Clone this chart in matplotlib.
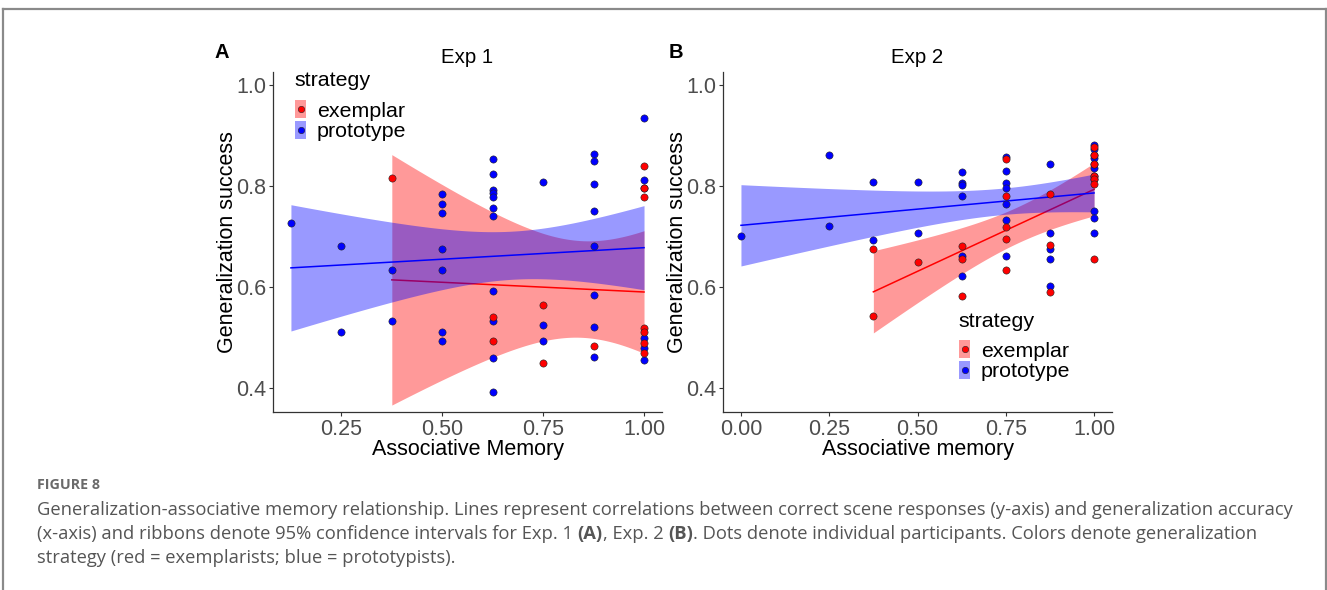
import math
import numpy as np
import matplotlib
matplotlib.use("Agg")
import matplotlib.pyplot as plt
from matplotlib.patches import Rectangle
from matplotlib.lines import Line2D
from matplotlib.legend_handler import HandlerBase

# ---------------- data ----------------
exp1_ex_x = [0.375, 0.625, 0.625, 0.75, 0.75, 0.875, 1.0, 1.0, 1.0, 1.0, 1.0, 1.0, 1.0]
exp1_ex_y = [0.816, 0.541, 0.493, 0.565, 0.450, 0.483, 0.840, 0.796, 0.778, 0.520, 0.511, 0.489, 0.469]

# prototype participants in Exp 1 (the last one sits underneath a red dot at x = 1)
exp1_pr_x = [0.125,
             0.25, 0.25,
             0.375, 0.375,
             0.5, 0.5, 0.5, 0.5, 0.5, 0.5, 0.5,
             0.625, 0.625, 0.625, 0.625, 0.625, 0.625, 0.625, 0.625, 0.625, 0.625, 0.625,
             0.75, 0.75, 0.75,
             0.875, 0.875, 0.875, 0.875, 0.875, 0.875, 0.875, 0.875,
             1.0, 1.0, 1.0, 1.0, 1.0,
             1.0]
exp1_pr_y = [0.727,
             0.682, 0.512,
             0.634, 0.532,
             0.785, 0.765, 0.746, 0.676, 0.634, 0.512, 0.493,
             0.854, 0.823, 0.792, 0.786, 0.779, 0.756, 0.740, 0.593, 0.532, 0.460, 0.392,
             0.808, 0.525, 0.493,
             0.863, 0.850, 0.804, 0.750, 0.682, 0.585, 0.522, 0.461,
             0.935, 0.812, 0.500, 0.479, 0.456,
             0.796]

exp2_ex_x = [0.375, 0.375, 0.5, 0.625, 0.625, 0.625,
             0.75, 0.75, 0.75, 0.75, 0.75,
             0.875, 0.875, 0.875,
             1.0, 1.0, 1.0, 1.0, 1.0, 1.0, 1.0]
exp2_ex_y = [0.675, 0.542, 0.649, 0.682, 0.655, 0.582,
             0.854, 0.780, 0.718, 0.695, 0.634,
             0.784, 0.683, 0.590,
             0.878, 0.862, 0.844, 0.820, 0.813, 0.804, 0.656]

# prototype participants in Exp 2 (the last four sit underneath red dots in the crowded x = 1 column)
exp2_pr_x = [0.0, 0.25, 0.25, 0.375, 0.375, 0.5, 0.5,
             0.625, 0.625, 0.625, 0.625, 0.625, 0.625,
             0.75, 0.75, 0.75, 0.75, 0.75, 0.75, 0.75,
             0.875, 0.875, 0.875, 0.875, 0.875,
             1.0, 1.0, 1.0, 1.0, 1.0, 1.0, 1.0,
             1.0, 1.0, 1.0, 1.0]
exp2_pr_y = [0.701, 0.862, 0.720, 0.807, 0.693, 0.808, 0.707,
             0.827, 0.805, 0.801, 0.780, 0.662, 0.621,
             0.857, 0.829, 0.805, 0.796, 0.765, 0.732, 0.662,
             0.843, 0.707, 0.676, 0.656, 0.602,
             0.882, 0.873, 0.855, 0.836, 0.751, 0.736, 0.707,
             0.862, 0.844, 0.820, 0.813]

x_ticks_1 = [0.25, 0.50, 0.75, 1.00]
x_ticks_2 = [0.00, 0.25, 0.50, 0.75, 1.00]
y_ticks = [0.4, 0.6, 0.8, 1.0]
strategies = ["exemplar", "prototype"]

caption_head = "FIGURE 8"
caption_line1 = ("Generalization-associative memory relationship. Lines represent correlations "
                 "between correct scene responses (y-axis) and generalization accuracy")
caption_line2 = [("(x-axis) and ribbons denote 95% confidence intervals for Exp. 1 ", "normal"),
                 ("(A)", "bold"), (", Exp. 2 ", "normal"), ("(B)", "bold"),
                 (". Dots denote individual participants. Colors denote generalization", "normal")]
caption_line3 = "strategy (red = exemplarists; blue = prototypists)."

RED = "#FF0000"
BLUE = "#0000FF"
W, H = 1327, 590

plt.rcParams["font.family"] = ["Liberation Sans", "DejaVu Sans"]


# ---------------- helpers ----------------
def t_quantile(p, df):
    """Quantile of Student's t via numeric integration of its density."""
    c = math.exp(math.lgamma((df + 1) / 2) - math.lgamma(df / 2)) / math.sqrt(df * math.pi)
    grid = np.linspace(0, 10, 200001)
    pdf = c * (1 + grid ** 2 / df) ** (-(df + 1) / 2)
    cdf = 0.5 + np.concatenate([[0], np.cumsum((pdf[1:] + pdf[:-1]) / 2 * np.diff(grid))])
    return float(np.interp(p, cdf, grid))


def lm_band(x, y, n_grid=80):
    x = np.asarray(x, float)
    y = np.asarray(y, float)
    n = len(x)
    xm = x.mean()
    sxx = ((x - xm) ** 2).sum()
    b1 = ((x - xm) * (y - y.mean())).sum() / sxx
    b0 = y.mean() - b1 * xm
    res = y - (b0 + b1 * x)
    s = math.sqrt((res ** 2).sum() / (n - 2))
    xs = np.linspace(x.min(), x.max(), n_grid)
    fit = b0 + b1 * xs
    se = s * np.sqrt(1 / n + (xs - xm) ** 2 / sxx)
    t = t_quantile(0.975, n - 2)
    return xs, fit, fit - t * se, fit + t * se


class KeyHandler(HandlerBase):
    """ggplot-like legend key: full ribbon-coloured box with a point in the middle."""
    def create_artists(self, legend, orig_handle, xdescent, ydescent, width, height,
                       fontsize, trans):
        col = orig_handle.get_color()
        rect = Rectangle((-xdescent, -ydescent), width, height, facecolor=col,
                         alpha=0.4, lw=0, transform=trans)
        pt = Line2D([-xdescent + width / 2], [-ydescent + height / 2], marker="o", ls="none",
                    ms=4.6, mfc=col, mec="#222222", mew=0.4, transform=trans)
        return [rect, pt]


def fig_rect(l, t, r, b):
    return [l / W, 1 - b / H, (r - l) / W, (b - t) / H]


fig = plt.figure(figsize=(W / 100, H / 100), dpi=100)

# outer frame
frame_kw = dict(transform=fig.transFigure, color="#8a8a8a", lw=1.6)
fig.add_artist(Line2D([3.5 / W, 3.5 / W], [0, 1 - 8.5 / H], **frame_kw))
fig.add_artist(Line2D([3.5 / W, 1325.5 / W], [1 - 8.5 / H, 1 - 8.5 / H], **frame_kw))
fig.add_artist(Line2D([1325.5 / W, 1325.5 / W], [0, 1 - 8.5 / H], **frame_kw))


def panel(rect, ex_x, ex_y, pr_x, pr_y, xlim, xticks, xlabel, title, letter,
          letter_px, title_px, rows_px):
    ax = fig.add_axes(rect)
    z = 1.0
    for gx, gy, col in ((ex_x, ex_y, RED), (pr_x, pr_y, BLUE)):
        xs, fit, lo, hi = lm_band(gx, gy)
        ax.fill_between(xs, lo, hi, color=col, alpha=0.4, lw=0, zorder=z)
        ax.plot(xs, fit, color=col, lw=1.1, zorder=z + 0.1)
        z += 0.2
    ax.scatter(pr_x, pr_y, s=27, c=BLUE, edgecolors="#222222", linewidths=0.4, zorder=3.1)
    ax.scatter(ex_x, ex_y, s=27, c=RED, edgecolors="#222222", linewidths=0.4, zorder=3.2)
    ax.set_xlim(*xlim)
    ax.set_ylim(0.353, 1.026)
    ax.set_xticks(xticks)
    ax.set_xticklabels([f"{v:.2f}" for v in xticks])
    ax.set_yticks(y_ticks)
    ax.set_yticklabels([f"{v:.1f}" for v in y_ticks])
    for sp in ("top", "right"):
        ax.spines[sp].set_visible(False)
    for sp in ("left", "bottom"):
        ax.spines[sp].set_color("#333333")
        ax.spines[sp].set_linewidth(0.9)
    ax.tick_params(axis="both", length=3, width=0.8, color="#333333", pad=2,
                   labelsize=15.5, labelcolor="#4d4d4d")
    ax.set_xlabel(xlabel, fontsize=15.5, color="black", labelpad=-1)
    ax.set_ylabel("Generalization success", fontsize=15.5, color="black", labelpad=-1.5)
    ax.set_title(title, fontsize=14.7, color="black", pad=6)
    fig.text(letter_px[0] / W, 1 - letter_px[1] / H, letter, fontsize=14.5, fontweight="bold",
             ha="center", va="center")
    # legend title
    fig.text(title_px[0] / W, 1 - title_px[1] / H, "strategy", fontsize=15.4,
             ha="left", va="center")
    handles = [Line2D([], [], color=RED), Line2D([], [], color=BLUE)]
    fig.legend(handles, strategies, handler_map={Line2D: KeyHandler()},
               loc="upper left", bbox_to_anchor=(rows_px[0] / W, 1 - rows_px[1] / H),
               frameon=False, fontsize=15.4,
               handlelength=0.52, handleheight=0.94, handletextpad=0.5,
               labelspacing=0.0, borderpad=0, borderaxespad=0)
    return ax


panel(fig_rect(273.3, 71.7, 661.7, 412), exp1_ex_x, exp1_ex_y, exp1_pr_x, exp1_pr_y,
      (0.0813, 1.0438), x_ticks_1, "Associative Memory", "Exp 1", "A", (222, 53),
      (294, 80), (295, 100))
panel(fig_rect(723.3, 71.7, 1111.7, 412), exp2_ex_x, exp2_ex_y, exp2_pr_x, exp2_pr_y,
      (-0.05, 1.05), x_ticks_2, "Associative memory", "Exp 2", "B", (676, 53),
      (958, 322), (959, 340))

# ---------------- caption ----------------
cap_font = ["Open Sans", "DejaVu Sans"]
cap_color = "#555555"
fig.text(37 / W, 1 - 485 / H, caption_head, fontsize=10.3, fontweight="bold",
         color="#6a6a6a", family=cap_font, va="center", ha="left")

renderer = fig.canvas.get_renderer()
probe = fig.text(0, 0, caption_line1, fontsize=12, family=cap_font)
wpx = probe.get_window_extent(renderer).width
probe.remove()
cap_size = 12 * (1293 - 37) / wpx * (1256 / 1268)

fig.text(37 / W, 1 - 510 / H, caption_line1, fontsize=cap_size, family=cap_font,
         color=cap_color, va="center", ha="left")
x_cursor = 37
for txt, wt in caption_line2:
    t = fig.text(x_cursor / W, 1 - 534 / H, txt, fontsize=cap_size, family=cap_font,
                 color=cap_color, va="center", ha="left", fontweight=wt)
    x_cursor += t.get_window_extent(renderer).width

fig.text(37 / W, 1 - 558 / H, caption_line3, fontsize=cap_size, family=cap_font,
         color=cap_color, va="center", ha="left")

fig.savefig("out.png", dpi=100)
